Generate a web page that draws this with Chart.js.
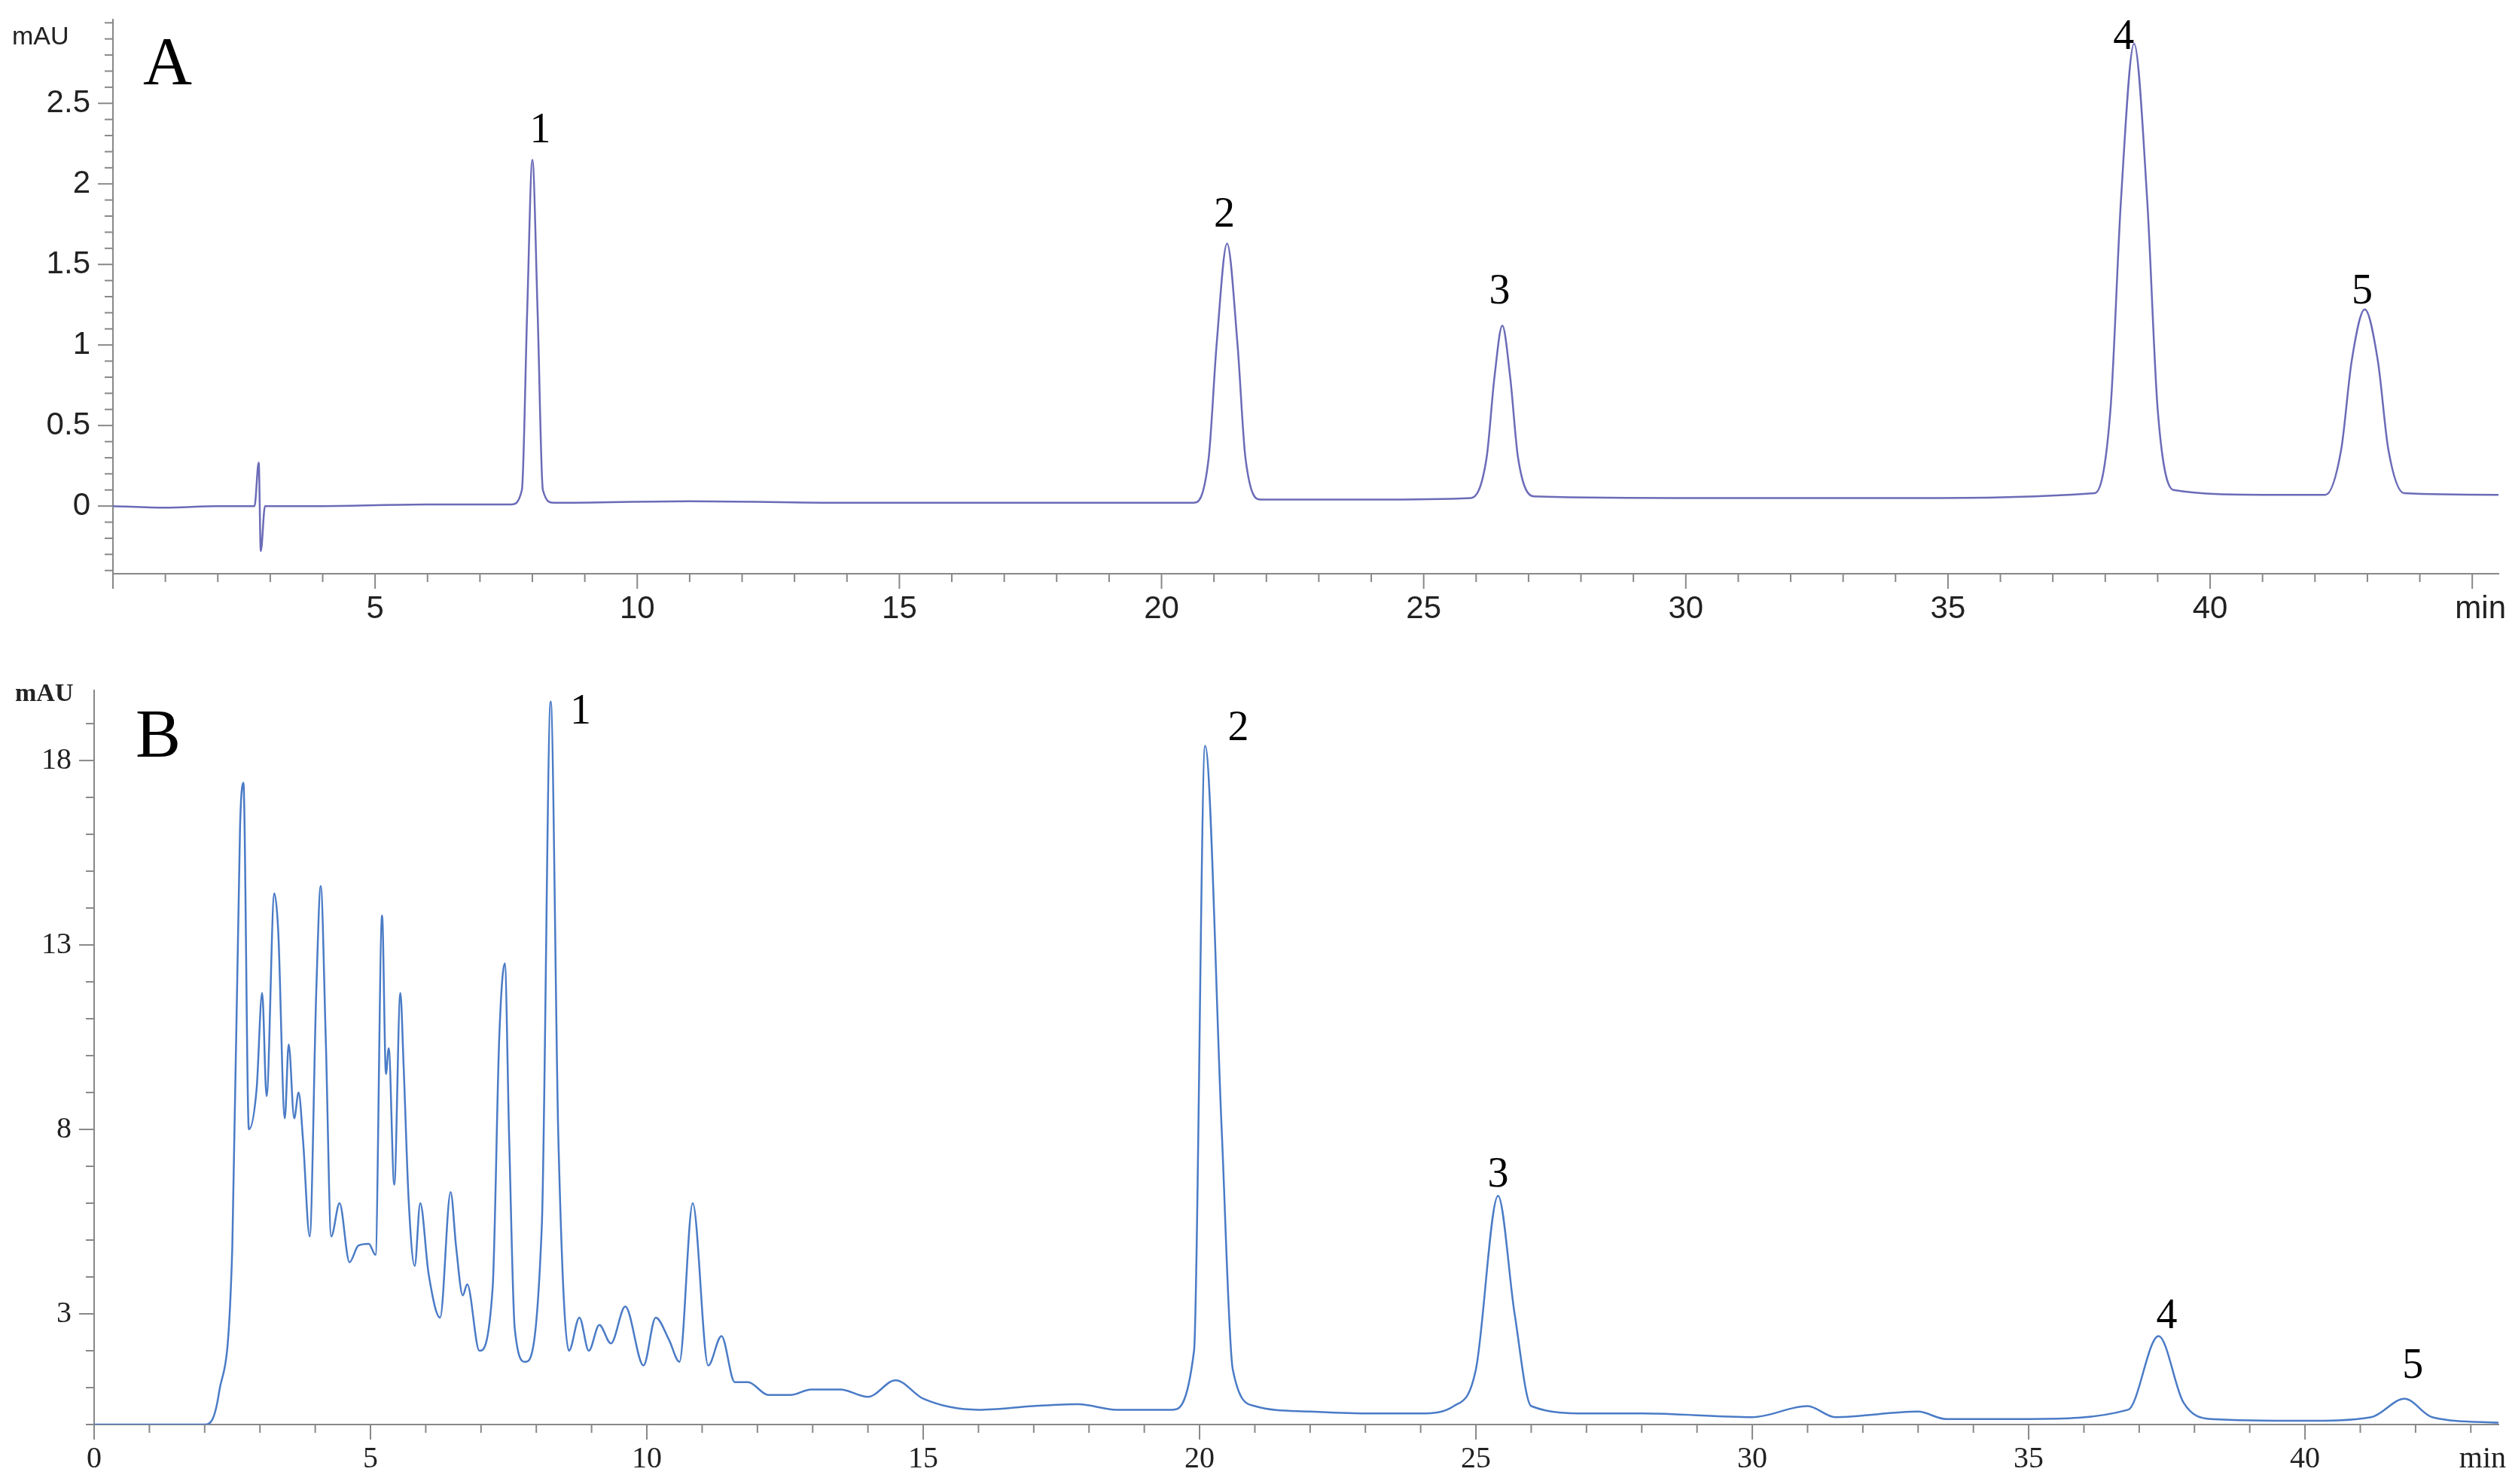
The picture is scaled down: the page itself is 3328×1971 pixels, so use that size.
<!DOCTYPE html>
<html><head><meta charset="utf-8">
<script src="https://cdn.jsdelivr.net/npm/chart.js@4.4.1/dist/chart.umd.min.js"></script>
<style>
body{margin:0;background:#fff;width:3328px;height:1971px;overflow:hidden}
.box{position:absolute;left:0;width:3328px}
</style></head><body>
<div class="box" style="top:0;height:860px"><canvas id="chartA"></canvas></div>
<div class="box" style="top:880px;height:1091px"><canvas id="chartB"></canvas></div>
<script>
// panel A: standard mixture (time min, mAU)
const timeA = [0, 1, 2, 2.7, 2.78, 2.82, 2.9, 4, 6, 7.6, 7.8, 7.9, 8.0, 8.1, 8.2, 8.4, 11, 14, 18, 20.6, 20.9, 21.05, 21.25, 21.45, 21.6, 21.9, 24, 25.9, 26.2, 26.35, 26.5, 26.65, 26.8, 27.1, 30, 34, 37.8, 38.1, 38.3, 38.55, 38.8, 39.0, 39.3, 41, 42.2, 42.5, 42.7, 42.95, 43.2, 43.4, 43.7, 45.5];
const mauA =  [0, -0.01, 0, 0, 0.27, -0.28, 0, 0, 0.01, 0.01, 0.1, 1.2, 2.15, 1.2, 0.1, 0.02, 0.03, 0.02, 0.02, 0.02, 0.3, 1.0, 1.63, 1.0, 0.3, 0.04, 0.04, 0.05, 0.3, 0.8, 1.12, 0.8, 0.3, 0.06, 0.05, 0.05, 0.08, 0.6, 1.9, 2.87, 1.9, 0.6, 0.1, 0.07, 0.07, 0.35, 0.9, 1.22, 0.9, 0.35, 0.08, 0.07];
// panel B: sample
const timeB = [0, 2.02, 2.26, 2.5, 2.64, 2.7, 2.8, 2.94, 3.04, 3.12, 3.26, 3.33, 3.45, 3.52, 3.62, 3.7, 3.78, 3.9, 4.02, 4.1, 4.19, 4.29, 4.44, 4.62, 4.78, 4.97, 5.09, 5.21, 5.28, 5.33, 5.43, 5.54, 5.6, 5.69, 5.8, 5.9, 6.05, 6.26, 6.45, 6.55, 6.67, 6.75, 6.97, 7.21, 7.33, 7.43, 7.51, 7.61, 7.8, 8.1, 8.26, 8.4, 8.59, 8.78, 8.95, 9.14, 9.35, 9.61, 9.94, 10.16, 10.4, 10.59, 10.83, 11.11, 11.35, 11.59, 11.83, 12.2, 12.6, 12.97, 13.5, 14.0, 14.5, 15, 16, 17, 17.8, 18.5, 19.5, 19.9, 20.1, 20.4, 20.6, 21, 22, 23, 24, 24.6, 25, 25.4, 25.7, 26, 27, 28, 30, 31, 31.5, 33, 33.5, 35, 36.8, 37.35, 37.8, 38.3, 40, 41.2, 41.8, 42.3, 43.5];
const mauB =  [0, 0, 0.87, 4.8, 16.2, 17.4, 8.0, 9.1, 11.7, 8.9, 14.4, 13.4, 8.3, 10.3, 8.3, 9.0, 7.7, 5.1, 11.8, 14.6, 10.5, 5.1, 6.0, 4.4, 4.85, 4.9, 4.6, 13.8, 9.5, 10.2, 6.5, 11.7, 9.7, 6.1, 4.3, 6.0, 4.1, 2.9, 6.3, 4.8, 3.5, 3.8, 2.0, 3.7, 10.5, 12.5, 7.7, 2.6, 1.7, 5.4, 19.6, 7.7, 2.0, 2.9, 2.0, 2.7, 2.2, 3.2, 1.6, 2.9, 2.3, 1.7, 6.0, 1.6, 2.4, 1.15, 1.15, 0.8, 0.8, 0.95, 0.95, 0.75, 1.2, 0.7, 0.4, 0.5, 0.55, 0.4, 0.4, 2.0, 18.4, 8.0, 1.5, 0.5, 0.35, 0.3, 0.3, 0.5, 1.5, 6.2, 3.0, 0.5, 0.3, 0.3, 0.2, 0.5, 0.2, 0.35, 0.15, 0.15, 0.4, 2.4, 0.6, 0.15, 0.1, 0.2, 0.7, 0.2, 0.05];
const peakNames = ['1', '2', '3', '4', '5'];
const labelTimeA = [8.15, 21.2, 26.45, 38.35, 42.9];
const labelMauA = [2.4, 1.88, 1.4, 2.98, 1.4];
const labelTimeB = [8.8, 20.7, 25.4, 37.5, 41.95];
const labelMauB = [19.35, 18.9, 6.8, 2.95, 1.6];
const xTicksA = [5, 10, 15, 20, 25, 30, 35, 40];
const yTicksA = [0, 0.5, 1, 1.5, 2, 2.5];
const xTicksB = [0, 5, 10, 15, 20, 25, 30, 35, 40];
const yTicksB = [3, 8, 13, 18];

function pts(t, v) { return t.map((x, i) => ({x: x, y: v[i]})); }

function panelPlugin(cfg) {
  return {
    id: 'panel' + cfg.letter,
    afterDraw(chart) {
      const ctx = chart.ctx, xs = chart.scales.x, ys = chart.scales.y;
      const a = chart.chartArea;
      ctx.save();
      ctx.strokeStyle = '#888'; ctx.lineWidth = 2;
      // minor and major ticks
      for (let v = xs.min; v <= xs.max + 1e-9; v += 1) {
        const vv = Math.round(v);
        if (vv < xs.min) continue;
        const px = xs.getPixelForValue(vv);
        const len = vv % 5 === 0 ? 20 : 11;
        ctx.beginPath(); ctx.moveTo(px, a.bottom); ctx.lineTo(px, a.bottom + len); ctx.stroke();
      }
      for (let k = Math.ceil(ys.min / cfg.yMinor); k * cfg.yMinor <= ys.max; k++) {
        const v = k * cfg.yMinor;
        const py = ys.getPixelForValue(v);
        const major = cfg.yTicks.some(t => Math.abs(t - v) < 1e-6);
        const len = major ? 20 : 11;
        ctx.beginPath(); ctx.moveTo(a.left, py); ctx.lineTo(a.left - len, py); ctx.stroke();
      }
      // tick labels
      ctx.fillStyle = '#222';
      ctx.font = cfg.tickFont;
      ctx.textAlign = 'center'; ctx.textBaseline = 'top';
      cfg.xTicks.forEach(t => ctx.fillText(String(t), xs.getPixelForValue(t), a.bottom + 26));
      ctx.textAlign = 'right'; ctx.fillText('min', 3328, a.bottom + 26);
      ctx.textBaseline = 'middle';
      cfg.yTicks.forEach(t => ctx.fillText(String(t), a.left - 30, ys.getPixelForValue(t)));
      ctx.font = cfg.unitFont; ctx.textAlign = 'left'; ctx.textBaseline = 'middle';
      ctx.fillText('mAU', cfg.unitX, cfg.unitY);
      // panel letter
      ctx.fillStyle = '#000';
      ctx.font = '90px "Liberation Serif", serif';
      ctx.textBaseline = 'alphabetic';
      ctx.fillText(cfg.letter, cfg.letterX, cfg.letterY);
      // peak numbers
      ctx.font = '56px "Liberation Serif", serif';
      ctx.textAlign = 'center'; ctx.textBaseline = 'bottom';
      peakNames.forEach((n, i) => ctx.fillText(n, xs.getPixelForValue(cfg.lt[i]), ys.getPixelForValue(cfg.lv[i]) + cfg.labelShift));
      ctx.restore();
    }
  };
}

function makeChart(id, data, color, xMax, yMin, yMax, axisX, plotTop, axisH, plug) {
  return new Chart(document.getElementById(id), {
    type: 'line',
    data: {datasets: [{data: data, borderColor: color, borderWidth: 2.5, pointRadius: 0, tension: 0.4, cubicInterpolationMode: 'monotone', fill: false}]},
    options: {
      responsive: true, maintainAspectRatio: false, animation: false,
      layout: {padding: {top: plotTop, right: 10, left: 0, bottom: 0}},
      plugins: {legend: {display: false}, tooltip: {enabled: false}},
      scales: {
        x: {type: 'linear', min: 0, max: xMax, grid: {display: false}, border: {color: '#888', width: 2},
            ticks: {display: false}, afterFit: s => { s.height = axisH; }},
        y: {min: yMin, max: yMax, grid: {display: false}, border: {color: '#888', width: 2},
            ticks: {display: false}, afterFit: s => { s.width = axisX; }}
      }
    },
    plugins: [plug]
  });
}

makeChart('chartA', pts(timeA, mauA), '#6b6bb8', 45.5, -0.42, 3.02, 150, 26, 98,
  panelPlugin({letter: 'A', xTicks: xTicksA, yTicks: yTicksA, yMinor: 0.1, lt: labelTimeA, lv: labelMauA, labelShift: 44,
    tickFont: '42px "Liberation Sans", Arial, sans-serif', unitFont: '34px "Liberation Sans", sans-serif',
    unitX: 16, unitY: 50, letterX: 190, letterY: 112}));
makeChart('chartB', pts(timeB, mauB), '#4a7bc6', 43.5, 0, 19.9, 125, 37, 79,
  panelPlugin({letter: 'B', xTicks: xTicksB, yTicks: yTicksB, yMinor: 1, lt: labelTimeB, lv: labelMauB, labelShift: 30,
    tickFont: '40px "Liberation Serif", serif', unitFont: 'bold 34px "Liberation Serif", serif',
    unitX: 20, unitY: 42, letterX: 180, letterY: 125}));
</script>
</body></html>
